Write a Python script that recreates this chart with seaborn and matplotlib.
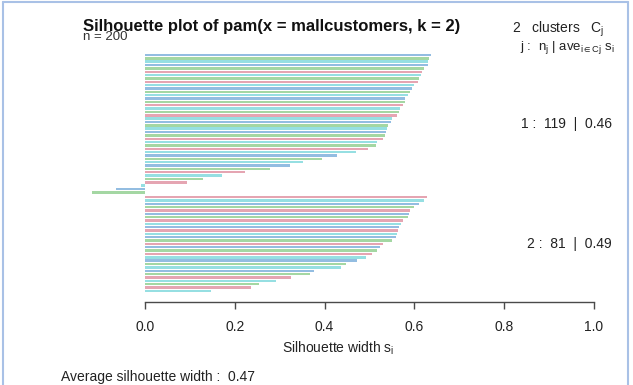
import numpy as np
import pandas as pd
import matplotlib
matplotlib.use("Agg")
import matplotlib.pyplot as plt
from matplotlib.lines import Line2D
import seaborn as sns

# Silhouette widths of the drawn observations, sorted within each cluster
sil_cluster1 = [0.636, 0.633, 0.631, 0.630, 0.621, 0.616, 0.614, 0.610, 0.607, 0.600,
                0.594, 0.590, 0.585, 0.580, 0.578, 0.575, 0.569, 0.565, 0.561, 0.551,
                0.547, 0.542, 0.539, 0.537, 0.535, 0.529, 0.517, 0.515, 0.496, 0.469,
                0.428, 0.395, 0.351, 0.324, 0.278, 0.222, 0.171, 0.130, 0.094, -0.009,
                -0.065, -0.119]
shade_cluster1 = list("bgcbgrcgrc" "bgcbgrcgrc" "bgcbgrcgrc" "bgcbgrcgrc" "bg")

sil_cluster2 = [0.628, 0.622, 0.611, 0.598, 0.590, 0.589, 0.586, 0.575, 0.571, 0.565,
                0.563, 0.561, 0.558, 0.549, 0.529, 0.524, 0.516, 0.506, 0.492, 0.473,
                0.448, 0.436, 0.377, 0.367, 0.326, 0.291, 0.255, 0.235, 0.147]
shade_cluster2 = list("rcbgrbgrcb" "rcbgrbgrcb" "gcbgrcgrc")

cluster_sizes = [119, 81]
cluster_avg = ["0.46", "0.49"]
overall_avg = "0.47"
n_obs = 200
x_ticks = [0.0, 0.2, 0.4, 0.6, 0.8, 1.0]
x_tick_labels = ["0.0", "0.2", "0.4", "0.6", "0.8", "1.0"]

palette = {"r": "#F09AAC", "g": "#9CE09A", "c": "#8AEBEE", "b": "#86BEEE"}

# one row per bar; the second cluster is pushed down a little to open a gap
gap = 0.4
pos1 = np.arange(len(sil_cluster1), dtype=float)
pos2 = np.arange(len(sil_cluster2), dtype=float) + len(sil_cluster1) + gap
df = pd.DataFrame({
    "width": sil_cluster1 + sil_cluster2,
    "pos": np.concatenate([pos1, pos2]),
    "shade": shade_cluster1 + shade_cluster2,
    "cluster": [1] * len(sil_cluster1) + [2] * len(sil_cluster2),
})

sns.set_style("white")
plt.rcParams["font.family"] = ["Liberation Sans", "DejaVu Sans"]
plt.rcParams["mathtext.fontset"] = "custom"
plt.rcParams["mathtext.rm"] = "Liberation Sans"
plt.rcParams["mathtext.it"] = "Liberation Sans"
plt.rcParams["mathtext.bf"] = "Liberation Sans:bold"

W, H = 633, 385
fig = plt.figure(figsize=(W / 100, H / 100), dpi=100)

# pixel geometry: x=0 at 145 px, x=1 at 594 px; first bar at 55 px, 3.35 px per row
x0_px, unit_px = 145.0, 449.0
ax_left_px, ax_right_px = 70.0, 625.0
ax_top_px, ax_bot_px = 45.0, 302.0
row_px, first_row_px = 3.35, 55.0

ax = fig.add_axes([ax_left_px / W, 1 - ax_bot_px / H,
                   (ax_right_px - ax_left_px) / W, (ax_bot_px - ax_top_px) / H])

sns.barplot(data=df, x="width", y="pos", hue="shade", palette=palette,
            orient="h", native_scale=True, dodge=False, width=0.72,
            errorbar=None, legend=False, linewidth=0, ax=ax)

ax.set_xlim((ax_left_px - x0_px) / unit_px, (ax_right_px - x0_px) / unit_px)
ax.set_ylim((ax_bot_px - first_row_px) / row_px, (ax_top_px - first_row_px) / row_px)

for side in ["left", "top", "right"]:
    ax.spines[side].set_visible(False)
ax.spines["bottom"].set_bounds(0, 1)
ax.spines["bottom"].set_color("#4a4a4a")
ax.spines["bottom"].set_linewidth(1.0)
ax.set_yticks([])
ax.set_xticks(x_ticks)
ax.set_xticklabels(x_tick_labels)
ax.tick_params(axis="x", direction="out", length=5, width=1.0, color="#4a4a4a",
               labelsize=10, labelcolor="#222222", pad=8, bottom=True)
ax.set_xlabel("")
ax.set_ylabel("")
ax.set_facecolor("white")

# per-cluster statistics, right of the bars
for k, (members, size, avg) in enumerate(zip([pos1, pos2], cluster_sizes, cluster_avg), start=1):
    ax.text(1.04, members.mean(), f"{k} :  {size}  |  {avg}", ha="right", va="center",
            fontsize=10, color="#222222", clip_on=False)


def ftext(x_px, y_px, s, **kw):
    fig.text(x_px / W, 1 - y_px / H, s, **kw)


ftext(83, 31, "Silhouette plot of pam(x = mallcustomers, k = 2)", ha="left",
      va="baseline", fontsize=12, fontweight="bold", color="#111111")
ftext(83, 40, f"n = {n_obs}", ha="left", va="baseline", fontsize=9.5, color="#333333")
ftext(512, 33, r"2   clusters   $\mathregular{C_j}$", ha="left", va="baseline",
      fontsize=10, color="#222222")
ftext(520, 50, r"j :  $\mathregular{n_j}$ | $\mathregular{ave_{i\in Cj}}$ $\mathregular{s_i}$",
      ha="left", va="baseline", fontsize=9.5, color="#222222")
ftext(338, 348, r"Silhouette width $\mathregular{s_i}$", ha="center", va="center",
      fontsize=10, color="#222222")
ftext(61, 377, f"Average silhouette width :  {overall_avg}", ha="left", va="center",
      fontsize=10, color="#222222")

# light frame around the figure
frame_kw = dict(color="#A9C1E6", linewidth=1.5, transform=fig.transFigure)
fig.add_artist(Line2D([3 / W, 628 / W], [1 - 2 / H, 1 - 2 / H], **frame_kw))
fig.add_artist(Line2D([3 / W, 3 / W], [1 - 2 / H, 0], **frame_kw))
fig.add_artist(Line2D([628 / W, 628 / W], [1 - 2 / H, 0], **frame_kw))

fig.savefig("out.png", dpi=100, facecolor="white")
